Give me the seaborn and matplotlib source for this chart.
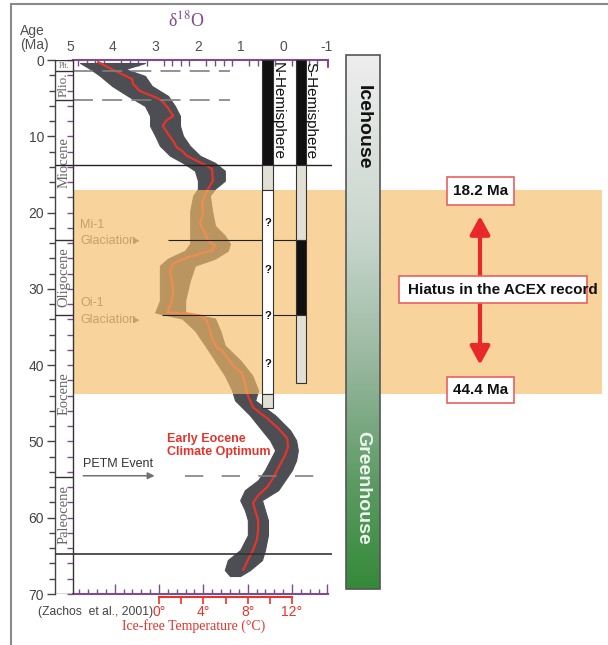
"""Cenozoic deep-sea d18O record with ice-sheet and hiatus annotations."""

import numpy as np
import matplotlib.pyplot as plt
import matplotlib.ticker as mticker
from matplotlib.colors import LinearSegmentedColormap
from matplotlib.patches import Rectangle, FancyArrowPatch
from matplotlib.lines import Line2D
import seaborn as sns


# ---------------------------------------------------------------------------
# Data
# ---------------------------------------------------------------------------

# smoothed d18O curve (red)
curve_age = [0.26, 1.44, 2.49, 3.14, 4.06, 4.97, 5.36, 6.28, 7.33, 7.98, 8.64,
             9.68, 10.60, 11.51, 11.91, 12.56, 13.22, 13.87, 14.27, 15.83,
             16.88, 18.45, 20.15, 21.46, 22.77, 23.68, 24.34, 24.99, 25.38,
             25.91, 26.69, 27.61, 28.92, 30.22, 31.53, 32.84, 33.10, 33.23,
             33.49, 34.15, 35.46, 36.77, 37.81, 38.07, 40.04, 41.08, 42.26,
             43.70, 45.53, 46.97, 48.28, 49.59, 50.77, 51.81, 53.51, 54.82,
             56.00, 57.05, 58.09, 59.01, 60.32, 61.63, 62.93, 64.24, 65.55,
             66.86]
curve_d18o = [4.34, 3.94, 3.54, 3.52, 3.36, 2.96, 2.84, 2.70, 2.58, 2.75, 2.82,
              2.70, 2.58, 2.49, 2.37, 2.26, 2.02, 1.79, 1.67, 1.65,
              1.76, 1.90, 1.88, 1.95, 1.83, 1.76, 1.60, 1.67, 1.95,
              2.26, 2.58, 2.65, 2.61, 2.58, 2.61, 2.70, 2.72, 2.26,
              1.95, 1.79, 1.72, 1.65, 1.53, 1.44, 1.18, 0.97, 0.90,
              0.85, 0.71, 0.38, 0.12, -0.09, -0.11, -0.04, 0.12, 0.24,
              0.38, 0.59, 0.71, 0.66, 0.59, 0.59, 0.62, 0.71, 0.83,
              0.94]

# outer edges of the raw d18O scatter cloud
cloud_age = [0.39, 1.18, 2.09, 3.40, 4.71, 6.02, 7.33, 8.64, 9.94, 11.25,
             12.56, 13.48, 14.52, 15.83, 16.88, 17.79, 19.76, 21.72, 23.03,
             24.07, 24.99, 26.04, 26.95, 28.92, 31.53, 33.10, 33.89, 35.46,
             37.42, 39.38, 41.34, 43.31, 44.62, 46.58, 48.54, 49.85, 51.16,
             52.47, 53.77, 55.08, 56.39, 57.70, 59.01, 60.32, 62.28, 64.24,
             65.55, 66.86, 67.64]
cloud_heavy = [4.76, 4.52, 4.29, 4.01, 3.64, 3.24, 3.12, 3.12, 3.00, 2.89,
               2.65, 2.35, 2.07, 2.00, 2.00, 2.11, 2.18, 2.18, 2.18,
               2.18, 2.30, 2.70, 2.89, 2.89, 2.89, 3.00, 2.37, 2.07,
               1.83, 1.60, 1.37, 1.20, 1.13, 0.78, 0.50, 0.31, 0.19,
               0.31, 0.43, 0.59, 0.90, 1.01, 0.90, 0.83, 0.83, 1.01,
               1.30, 1.37, 1.25]
cloud_light = [3.24, 3.70, 3.24, 3.08, 2.70, 2.54, 2.42, 2.42, 2.35, 2.19,
               1.95, 1.60, 1.37, 1.37, 1.60, 1.72, 1.67, 1.60, 1.37,
               1.25, 1.30, 1.60, 2.07, 2.19, 2.30, 2.30, 1.60, 1.48,
               1.37, 1.01, 0.73, 0.59, 0.66, 0.19, -0.16, -0.30, -0.34,
               -0.30, -0.20, -0.04, 0.12, 0.50, 0.43, 0.36, 0.36, 0.43,
               0.50, 0.78, 1.01]

epoch_names = ['Plt.', 'Plio.', 'Miocene', 'Oligocene', 'Eocene', 'Paleocene']
epoch_bounds = [1.4, 5.2, 23.6, 33.4, 54.6]
epoch_label_age = [0.75, 3.2, 13.4, 28.4, 43.7, 59.6]

# ice-sheet bars: start, end, state
n_start = [0.0, 13.8, 17.0, 43.8]
n_end = [13.8, 17.0, 43.8, 45.6]
n_state = ['full', 'partial', 'none', 'partial']
s_start = [0.0, 13.8, 23.6, 33.4]
s_end = [13.8, 23.6, 33.4, 42.4]
s_state = ['full', 'partial', 'full', 'partial']
question_age = [21.4, 27.5, 33.5, 39.8]

hiatus_band = (17.0, 43.8)
hiatus_labels = ['18.2 Ma', '44.4 Ma']

temp_major = [0, 4, 8, 12]
temp_minor = [2, 6, 10]

# paleotemperature scale: d18O = T0_D18O - D18O_PER_DEG * T
T0_D18O = 2.911
D18O_PER_DEG = 0.2595


def d18o_to_temp(d):
    return (T0_D18O - np.asarray(d)) / D18O_PER_DEG


def temp_to_d18o(t):
    return T0_D18O - D18O_PER_DEG * np.asarray(t)


# ---------------------------------------------------------------------------
# Style
# ---------------------------------------------------------------------------

sns.set_theme(style='white')
plt.rcParams['font.family'] = ['Liberation Sans', 'DejaVu Sans']
plt.rcParams['mathtext.fontset'] = 'stix'
plt.rcParams['axes.unicode_minus'] = False

PURPLE = '#7d4c8f'
RED = '#e5352b'
TXT = '#505050'
BAND = '#f5bd67'
SERIF = ['Liberation Serif', 'DejaVu Serif']
FILL = {'full': '#111111', 'partial': '#e2dfd4', 'none': 'white'}

W, H = 608, 645


def fx(px):
    return px / W


def fy(py):
    return 1 - py / H


D_LEFT, D_RIGHT = 5.347, -1.14
COL_EDGE = 4.925
AXIS_END = -1.05

fig = plt.figure(figsize=(W / 100, H / 100), dpi=100)
ax = fig.add_axes([fx(55), fy(594), fx(332) - fx(55), fy(60) - fy(594)])
axr = fig.add_axes([fx(332), fy(594), fx(608) - fx(332), fy(60) - fy(594)],
                   sharey=ax)

# ---------------------------------------------------------------------------
# d18O record
# ---------------------------------------------------------------------------

ax.fill_betweenx(cloud_age, cloud_heavy, cloud_light, color='#4d4d54',
                 lw=0.8, zorder=2)
sns.lineplot(x=curve_d18o, y=curve_age, orient='y', estimator=None,
             color=RED, lw=1.6, ax=ax, zorder=3)

# glaciation / event labels (sit under the hiatus band)
GLAC = '#6e6e6e'
ax.text(4.76, 21.6, 'Mi-1', fontsize=9, color=GLAC, va='center', zorder=3)
ax.text(4.76, 23.7, 'Glaciation', fontsize=9, color=GLAC, va='center', zorder=3)
ax.text(4.76, 31.9, 'Oi-1', fontsize=9, color=GLAC, va='center', zorder=3)
ax.text(4.76, 34.1, 'Glaciation', fontsize=9, color=GLAC, va='center', zorder=3)
for age in (23.7, 34.1):
    ax.annotate('', xy=(3.30, age), xytext=(3.52, age), zorder=3,
                arrowprops=dict(arrowstyle='-|>', color=GLAC, lw=1,
                                mutation_scale=8))

# hiatus band
col_frac = (D_LEFT - COL_EDGE) / (D_LEFT - D_RIGHT)
ax.axhspan(*hiatus_band, xmin=col_frac, xmax=1, color=BAND, alpha=0.65,
           lw=0, zorder=4)
axr.axhspan(*hiatus_band, xmin=0, xmax=(602 - 332) / 276, color=BAND,
            alpha=0.65, lw=0, zorder=4)

# horizontal reference lines
ax.hlines([13.8], D_LEFT, D_RIGHT, color='#222222', lw=1, zorder=6)
ax.hlines([64.7], D_LEFT, D_RIGHT, color='#333333', lw=1.2, zorder=6)
ax.hlines([23.6], 2.70, -0.53, color='#222222', lw=0.8, zorder=6)
ax.hlines([33.4], 2.85, -0.53, color='#222222', lw=0.8, zorder=6)
ax.hlines([1.4, 5.2], COL_EDGE, 1.25, color='#808080', lw=1.2,
          linestyles=[(0, (12, 5.5))], zorder=6)
ax.hlines([54.5], 2.30, -0.86, color='#808080', lw=1.2,
          linestyles=[(0, (11, 11))], zorder=6)

ax.text(4.7, 53.0, 'PETM Event', fontsize=9, color='#333333', va='center')
ax.annotate('', xy=(2.95, 54.5), xytext=(4.75, 54.5),
            arrowprops=dict(arrowstyle='-|>', color='#707070', lw=1.1,
                            mutation_scale=10))
ax.text(2.72, 50.5, 'Early Eocene\nClimate Optimum', fontsize=9,
        fontweight='bold', color=RED, va='center', linespacing=1.15, zorder=6)

# epoch column
ax.vlines(COL_EDGE, 0, 70, color='#333333', lw=1, zorder=6)
ax.hlines(epoch_bounds + [0, 70], D_LEFT, COL_EDGE, color='#333333', lw=1, zorder=6)
for name, age in zip(epoch_names, epoch_label_age):
    if name == 'Plt.':
        ax.text(5.136, age, name, fontsize=5.5, ha='center', va='center',
                family=SERIF, color='#666666', zorder=6)
    else:
        ax.text(5.136, age, name, fontsize=9.5 if name == 'Plio.' else 10.5,
                rotation=90, ha='center', va='center', family=SERIF,
                color='#666666', zorder=6)

# ice-sheet bars
for starts, ends, states, xc in ((n_start, n_end, n_state, 0.37),
                                 (s_start, s_end, s_state, -0.415)):
    ax.bar([xc] * len(starts), np.subtract(ends, starts), bottom=starts,
           width=0.245, color=[FILL[s] for s in states], edgecolor='#333333',
           lw=0.8, zorder=7)
for age in question_age:
    ax.text(0.36, age, '?', fontsize=8, fontweight='bold', ha='center',
            va='center', color='#111111', zorder=8)
ax.text(0.12, 0.3, 'N-Hemisphere', rotation=-90, ha='center', va='top',
        fontsize=11, color='#111111', zorder=8)
ax.text(-0.63, 0.3, 'S-Hemisphere', rotation=-90, ha='center', va='top',
        fontsize=11, color='#111111', zorder=8)

# ---------------------------------------------------------------------------
# Axes
# ---------------------------------------------------------------------------

for side in ('right', 'bottom'):
    ax.spines[side].set_visible(False)
ax.spines['left'].set_color('#444444')
ax.spines['left'].set_linewidth(1)
ax.spines['top'].set_color(PURPLE)
ax.spines['top'].set_linewidth(1.5)
ax.spines['top'].set_bounds(COL_EDGE, AXIS_END)

ax.yaxis.set_major_locator(mticker.MultipleLocator(10))
ax.yaxis.set_minor_locator(mticker.MultipleLocator(2))
ax.tick_params(axis='y', which='major', left=True, direction='out', length=6,
               width=1, color='#444444', labelsize=10, labelcolor='#444444',
               pad=2)
ax.tick_params(axis='y', which='minor', left=True, direction='out', length=4,
               width=1, color='#444444')

ax.xaxis.tick_top()
ax.set_xticks([5, 4, 3, 2, 1, 0, -1])
ax.set_xticks(np.round(np.arange(4.8, -1.01, -0.2), 1), minor=True)
ax.tick_params(axis='x', which='major', length=0, pad=4, labelsize=10,
               labelcolor=TXT)
ax.tick_params(axis='x', which='minor', top=True, direction='in', length=4,
               width=1, color=PURPLE)
ax.plot([AXIS_END, AXIS_END], [0, 0.9], color=PURPLE, lw=1.5, clip_on=False)
ax.set_xlabel('')
ax.set_ylabel('')

# purple ticks on the right side of the epoch column
secy = ax.secondary_yaxis(col_frac)
secy.spines[['left', 'right', 'top', 'bottom']].set_visible(False)
secy.yaxis.set_major_locator(mticker.MultipleLocator(2))
secy.tick_params(axis='y', direction='out', length=4, width=1, color=PURPLE,
                 labelright=False, labelleft=False)

# purple bottom axis (temperature-spaced ticks)
secb = ax.secondary_xaxis('bottom', functions=(d18o_to_temp, temp_to_d18o))
secb.spines['bottom'].set_color(PURPLE)
secb.spines['bottom'].set_linewidth(1.5)
secb.spines['bottom'].set_bounds(float(d18o_to_temp(COL_EDGE)),
                                 float(d18o_to_temp(AXIS_END)))
secb.set_xticks([-4, 0, 4, 8, 12, 15.2])
secb.set_xticks(np.round(np.arange(-7.2, 15.3, 0.8), 1), minor=True)
secb.tick_params(axis='x', which='major', direction='in', length=7, width=1,
                 color=PURPLE, labelbottom=False)
secb.tick_params(axis='x', which='minor', direction='in', length=3.5, width=1,
                 color=PURPLE)

# red ice-free temperature axis
sect = ax.secondary_xaxis(-0.005, functions=(d18o_to_temp, temp_to_d18o))
sect.set_alignment('bottom')
sect.spines['bottom'].set_color(RED)
sect.spines['bottom'].set_linewidth(1.5)
sect.spines['bottom'].set_bounds(0, 12)
sect.set_xticks(temp_major, [f'{t}°' for t in temp_major])
sect.set_xticks(temp_minor, minor=True)
sect.tick_params(axis='x', which='both', direction='out', length=5, width=1.2,
                 color=RED, labelcolor=RED, labelsize=10, pad=1)
sect.set_xlabel('Ice-free Temperature (°C)', color=RED, family=SERIF,
                fontsize=10, labelpad=0)

# ---------------------------------------------------------------------------
# Right panel: climate state bar and hiatus annotation (x in pixel units)
# ---------------------------------------------------------------------------

grad = LinearSegmentedColormap.from_list(
    'ice_green', [(0, '#eeeeee'), (0.35, '#c6d5cb'), (0.6, '#93b49a'),
                  (0.8, '#5d9b63'), (1, '#348a39')])
axr.imshow(np.linspace(0, 1, 256)[:, None], cmap=grad, aspect='auto',
           extent=[346, 380, 69.3, -0.7], origin='upper', clip_on=False,
           zorder=5)
axr.add_patch(Rectangle((346, -0.7), 34, 70.0, fill=False, ec='#555555',
                        lw=1.2, clip_on=False, zorder=6))
axr.text(363, 8.8, 'Icehouse', rotation=-90, ha='center', va='center',
         fontsize=14, fontweight='bold', color='#111111', zorder=7)
axr.text(363, 56.1, 'Greenhouse', rotation=-90, ha='center', va='center',
         fontsize=14, fontweight='bold', color='#eef5ee', zorder=7)

axr.add_patch(FancyArrowPatch((480, 20.1), (480, 40.3),
                              arrowstyle='<|-|>,head_length=0.55,head_width=0.3',
                              mutation_scale=20, color='#e8282a', lw=3,
                              zorder=6))
for (x0, x1, a0, a1) in ((447, 514, 15.3, 19.0), (447, 514, 41.6, 45.0),
                         (399, 587, 28.3, 31.9)):
    axr.add_patch(Rectangle((x0, a0), x1 - x0, a1 - a0, fc='white',
                            ec='#e86060', lw=1.2, zorder=7))
axr.text(480.5, 17.2, hiatus_labels[0], ha='center', va='center', fontsize=11,
         fontweight='bold', color='#111111', zorder=8)
axr.text(480.5, 43.3, hiatus_labels[1], ha='center', va='center', fontsize=11,
         fontweight='bold', color='#111111', zorder=8)
axr.text(408, 30.1, 'Hiatus in the ACEX record', ha='left', va='center',
         fontsize=11, fontweight='bold', color='#111111', zorder=8)

axr.set_xlim(332, 608)
axr.axis('off')
ax.set_xlim(D_LEFT, D_RIGHT)
ax.set_ylim(70, 0)

# ---------------------------------------------------------------------------
# Figure texts and frame
# ---------------------------------------------------------------------------

fig.text(fx(186), fy(20), 'δ$^{18}$O', ha='center', va='center',
         fontsize=13, color=PURPLE, family=SERIF)
fig.text(fx(20), fy(38), 'Age\n(Ma)', ha='left', va='center', fontsize=10,
         color=TXT, linespacing=0.95)
fig.text(fx(38), fy(612), '(Zachos  et al., 2001)', ha='left', va='center',
         fontsize=8.7, color='#444444')

fig.add_artist(Line2D([fx(11), fx(11)], [fy(4), 0], color='#8a8a8a', lw=1.5))
fig.add_artist(Line2D([fx(11), 1], [fy(4), fy(4)], color='#8a8a8a', lw=1.5))

fig.savefig('out.png', dpi=100)
